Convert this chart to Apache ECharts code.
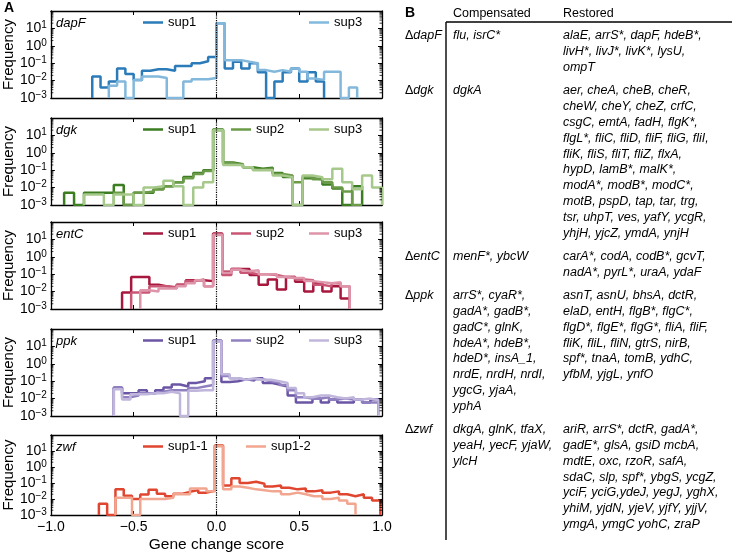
<!DOCTYPE html>
<html>
<head>
<meta charset="utf-8">
<script src="https://cdn.jsdelivr.net/npm/echarts@6/dist/echarts.min.js"></script>
<style>
  html, body { margin: 0; padding: 0; background: #fff; }
  #chart { width: 732px; height: 554px; }
</style>
</head>
<body>
<div id="chart"></div>
<script>
var FONT = 'Liberation Sans, Arial, sans-serif';
var FLOOR = 0.001; // empty bins sit on the bottom of the log axis

// ---- panel A : histograms of gene change score ----
var strains = ['dapF', 'dgk', 'entC', 'ppk', 'zwf'];
var xTicks = [-1.0, -0.5, 0.0, 0.5, 1.0];

// per strain: series names, first bin edge, bin width, frequency per bin
var dapF_names = ['sup1', 'sup3'];
var dapF_start = [-0.75, -0.65];
var dapF_width = [0.05, 0.05];
var dapF_freq = [
  [0.017, 0.004, 0.009, 0.05, 0.024, 0.011, 0.037, 0.045, 0.045, 0.037, 0.07, 0.07, 0.1, 0.13, 0.23,
   20,
   0.05, 0.12, 0.05, 0.1, 0.03, 0, 0.009, 0.03, 0.05, 0.009, 0.03, 0.009],
  [0.005, 0.009, 0, 0.011, 0.017, 0.017, 0.014, 0, 0, 0.009, 0.012, 0.012, 0.014,
   20,
   0.15, 0.15, 0.12, 0.1, 0.04, 0.032, 0.04, 0.032, 0.05, 0.032, 0.013, 0.011, 0.032, 0.032, 0, 0.004]
];

var dgk_names = ['sup1', 'sup2', 'sup3'];
var dgk_start = [-0.92, -0.62, -0.80];
var dgk_width = [0.06, 0.06, 0.06];
var dgk_freq = [
  [0.005, 0, 0.005, 0.005, 0.005, 0.014, 0, 0.005, 0.005, 0.008, 0.012, 0.02, 0.04, 0.07, 0.1,
   22,
   0.28, 0.22, 0.15, 0.12, 0.14, 0.07, 0.04, 0, 0.035, 0.03, 0.015, 0.009, 0, 0.012],
  [0.005, 0, 0.005, 0.006, 0.008, 0.012, 0.02, 0.035, 0.06, 0.09,
   20,
   0.25, 0.2, 0.15, 0.11, 0.12, 0.06, 0.05, 0.02, 0.04, 0.03, 0.02, 0.01, 0.006, 0],
  [0.004, 0.004, 0, 0.004, 0.004, 0, 0.01, 0.012, 0.025, 0.012, 0, 0.01, 0.02,
   20,
   0.2, 0.2, 0.15, 0.1, 0.1, 0.05, 0.04, 0, 0.05, 0.04, 0.03, 0.12, 0.02, 0.008, 0.05, 0.01]
];

var entC_names = ['sup1', 'sup2', 'sup3'];
var entC_start = [-0.57, -0.515, -0.46];
var entC_width = [0.055, 0.055, 0.055];
var entC_freq = [
  [0.009, 0.07, 0.07, 0.025, 0.02, 0.016, 0.025, 0.045, 0.045, 0.04,
   22,
   0.14, 0.2, 0.2, 0.09, 0.025, 0.05, 0.013, 0.07, 0.037, 0.01, 0.03, 0.01, 0.02, 0.004],
  [0.009, 0.009, 0.02, 0.02, 0.018, 0.025, 0.04, 0.05, 0.02,
   20,
   0.09, 0.2, 0.12, 0.1, 0.1, 0.09, 0.07, 0.07, 0.05, 0.045, 0.025, 0.02, 0.03, 0.02],
  [0.012, 0.01, 0.015, 0.015, 0.02, 0.03, 0.045, 0.02,
   18,
   0.12, 0.18, 0.15, 0.17, 0.1, 0.1, 0.07, 0.06, 0.06, 0.04, 0.035, 0.03, 0.035, 0.02]
];

var ppk_names = ['sup1', 'sup2', 'sup3'];
var ppk_start = [-0.62, -0.62, -0.62];
var ppk_width = [0.05, 0.05, 0.05];
var ppk_freq = [
  [0.043, 0.02, 0.02, 0.03, 0.02, 0.03, 0.043, 0.065, 0.05, 0.08, 0.1, 0.15,
   22,
   0.09, 0.1, 0.13, 0.11, 0.15, 0.08, 0.065, 0.05, 0.015, 0.006, 0.006, 0.01, 0.006, 0.009, 0.006, 0.006, 0.009, 0.006, 0.009],
  [0.04, 0.012, 0.015, 0.02, 0.02, 0.025, 0.03, 0.03, 0.03, 0.04, 0.05, 0.06,
   20,
   0.2, 0.15, 0.12, 0.13, 0.13, 0.1, 0.08, 0.06, 0.03, 0.012, 0.01, 0.01, 0.012, 0.009, 0.01, 0.009, 0.009, 0.006, 0.006],
  [0.035, 0.009, 0.018, 0.018, 0.02, 0.02, 0.025, 0.02, 0, 0.028, 0.03, 0.03,
   20,
   0.25, 0.15, 0.12, 0.15, 0.12, 0.12, 0.1, 0.08, 0.04, 0.02, 0.012, 0.015, 0.015, 0.012, 0.01, 0.012, 0.009, 0.01, 0.008]
];

var zwf_names = ['sup1-1', 'sup1-2'];
var zwf_start = [-0.71, -0.61];
var zwf_width = [0.05, 0.05];
var zwf_freq = [
  [0.005, 0, 0.04, 0.016, 0.01, 0.019, 0.038, 0.021, 0.015, 0.021, 0.028, 0.036, 0.025, 0.033,
   22,
   0.07, 0.2, 0.1, 0.12, 0.09, 0.06, 0.07, 0.05, 0.04, 0.045, 0.03, 0.035, 0.025, 0.03, 0.02, 0.015, 0.02, 0.012, 0.008],
  [0.012, 0.012, 0, 0.01, 0.01, 0.01, 0.012, 0.02, 0.02, 0.045, 0.045, 0.03,
   20,
   0.04, 0.06, 0.05, 0.04, 0.035, 0.03, 0.03, 0.02, 0.025, 0.02, 0.015, 0.015, 0.01, 0.012, 0.008, 0.005]
];

// ---- panel B : table ----
var tableStrains = ['dapF', 'dgk', 'entC', 'ppk', 'zwf'];
var compensated = [
  ['flu, isrC*'],
  ['dgkA'],
  ['menF*, ybcW'],
  ['arrS*, cyaR*,', 'gadA*, gadB*,', 'gadC*, glnK,', 'hdeA*, hdeB*,', 'hdeD*, insA_1,',
   'nrdE, nrdH, nrdI,', 'ygcG, yjaA,', 'yphA'],
  ['dkgA, glnK, tfaX,', 'yeaH, yecF, yjaW,', 'ylcH']
];
var restored = [
  ['alaE, arrS*, dapF, hdeB*,', 'livH*, livJ*, livK*, lysU,', 'ompT'],
  ['aer, cheA, cheB, cheR,', 'cheW, cheY, cheZ, crfC,', 'csgC, emtA, fadH, flgK*,',
   'flgL*, fliC, fliD, fliF, fliG, fliI,', 'fliK, fliS, fliT, fliZ, flxA,', 'hypD, lamB*, malK*,',
   'modA*, modB*, modC*,', 'motB, pspD, tap, tar, trg,', 'tsr, uhpT, ves, yafY, ycgR,',
   'yhjH, yjcZ, ymdA, ynjH'],
  ['carA*, codA, codB*, gcvT,', 'nadA*, pyrL*, uraA, ydaF'],
  ['asnT, asnU, bhsA, dctR,', 'elaD, entH, flgB*, flgC*,', 'flgD*, flgE*, flgG*, fliA, fliF,',
   'fliK, fliL, fliN, gtrS, nirB,', 'spf*, tnaA, tomB, ydhC,', 'yfbM, yjgL, ynfO'],
  ['ariR, arrS*, dctR, gadA*,', 'gadE*, glsA, gsiD mcbA,', 'mdtE, oxc, rzoR, safA,',
   'sdaC, slp, spf*, ybgS, ycgZ,', 'yciF, yciG,ydeJ, yegJ, yghX,', 'yhiM, yjdN, yjeV, yjfY, yjjV,',
   'ymgA, ymgC yohC, zraP']
];

// ---- styling / layout ----
var panels = [
  { names: dapF_names, start: dapF_start, width: dapF_width, freq: dapF_freq,
    colors: ['#2b7bb9', '#82b8dc'], legX: [143, 309] },
  { names: dgk_names, start: dgk_start, width: dgk_width, freq: dgk_freq,
    colors: ['#3b7d20', '#6b9b48', '#a6c98b'], legX: [143, 231, 309] },
  { names: entC_names, start: entC_start, width: entC_width, freq: entC_freq,
    colors: ['#a8173d', '#c95674', '#de95aa'], legX: [143, 231, 309] },
  { names: ppk_names, start: ppk_start, width: ppk_width, freq: ppk_freq,
    colors: ['#6b55a5', '#9080c0', '#c0b6dc'], legX: [143, 231, 309] },
  { names: zwf_names, start: zwf_start, width: zwf_width, freq: zwf_freq,
    colors: ['#e0452f', '#f2a690'], legX: [143, 246] }
];
var tops = [11, 118, 222, 329, 435];
var GH = 87;

// log minor ticks 2..9 x 10^n
var minorTicks = [];
for (var n = -3; n <= 1; n++) {
  for (var m = 2; m <= 9; m++) minorTicks.push(m * Math.pow(10, n));
}

function stepLine(start, width, freq) {
  var pts = [[start, FLOOR]];
  for (var k = 0; k < freq.length; k++) {
    var x0 = +(start + k * width).toFixed(4);
    var x1 = +(start + (k + 1) * width).toFixed(4);
    var y = freq[k] > 0 ? freq[k] : FLOOR;
    pts.push([x0, y], [x1, y]);
  }
  pts.push([+(start + freq.length * width).toFixed(4), FLOOR]);
  return pts;
}

function minus(v) { return v < 0 ? '\u2212' + Math.abs(v) : '' + v; }

var axisLineStyle = { color: '#000', width: 1.3 };
var grids = [], xAxes = [], yAxes = [], series = [], legends = [], graphics = [];

panels.forEach(function (p, i) {
  var T = tops[i];
  grids.push({ left: 46, top: T, width: 336, height: GH });

  xAxes.push({
    gridIndex: i, type: 'value', min: -1, max: 1, interval: 0.5, position: 'bottom',
    axisLine: { onZero: false, lineStyle: axisLineStyle },
    axisTick: { inside: true, length: 4, lineStyle: { color: '#000', width: 1 } },
    axisLabel: {
      show: i === 4, margin: 5, color: '#000', fontSize: 14, fontFamily: FONT,
      showMinLabel: true, showMaxLabel: true,
      formatter: function (v) { return (v < 0 ? '\u2212' : '') + Math.abs(v).toFixed(1); }
    },
    splitLine: { show: false },
    name: i === 4 ? 'Gene change score' : '', nameLocation: 'middle', nameGap: 22,
    nameTextStyle: { color: '#000', fontSize: 15.5, fontFamily: FONT }
  });
  xAxes.push({
    gridIndex: i, type: 'value', min: -1, max: 1, interval: 0.5, position: 'top',
    axisLine: { onZero: false, lineStyle: axisLineStyle },
    axisTick: { inside: true, length: 4, lineStyle: { color: '#000', width: 1 } },
    axisLabel: { show: false }, splitLine: { show: false }
  });

  yAxes.push({
    gridIndex: i, type: 'log', logBase: 10, min: 0.001, max: 100, position: 'left',
    axisLine: { onZero: false, lineStyle: axisLineStyle },
    axisTick: { inside: true, length: 4, lineStyle: { color: '#000', width: 1 } },
    axisLabel: {
      margin: 4, showMinLabel: true, showMaxLabel: false, hideOverlap: false, color: '#000',
      formatter: function (v) {
        var e = Math.round(Math.log(v) / Math.LN10);
        return '{b|10}{s|' + minus(e) + '}';
      },
      rich: {
        b: { fontSize: 14, fontFamily: FONT, color: '#000', lineHeight: 16 },
        s: { fontSize: 10, fontFamily: FONT, color: '#000', lineHeight: 8, verticalAlign: 'top' }
      }
    },
    splitLine: { show: false },
    name: 'Frequency', nameLocation: 'middle', nameGap: 30,
    nameTextStyle: { color: '#000', fontSize: 15, fontFamily: FONT }
  });
  yAxes.push({
    gridIndex: i, type: 'log', logBase: 10, min: 0.001, max: 100, position: 'right',
    axisLine: { onZero: false, lineStyle: axisLineStyle },
    axisTick: { inside: true, length: 4, lineStyle: { color: '#000', width: 1 } },
    axisLabel: { show: false }, splitLine: { show: false }
  });

  p.names.forEach(function (nm, j) {
    var sName = strains[i] + '|' + nm;
    var s = {
      type: 'line', name: sName, xAxisIndex: 2 * i, yAxisIndex: 2 * i,
      data: stepLine(p.start[j], p.width[j], p.freq[j]),
      symbol: 'none', showSymbol: false, clip: true, animation: false,
      color: p.colors[j],
      lineStyle: { width: 2.5, color: p.colors[j] },
      z: 3 + j
    };
    if (j === 0) {
      s.markLine = {
        silent: true, symbol: ['none', 'none'], label: { show: false },
        lineStyle: { type: 'dotted', color: '#000', width: 1.2 },
        data: [{ xAxis: 0 }], z: 10
      };
    }
    series.push(s);
    legends.push({
      data: [sName], left: p.legX[j], top: T + 5, icon: 'rect', itemWidth: 20, itemHeight: 2.5,
      selectedMode: false, padding: 0,
      textStyle: { fontSize: 13, fontFamily: FONT, color: '#000' },
      formatter: function (name) { return name.split('|')[1]; }
    });
  });

  // log minor ticks, both sides
  series.push({
    type: 'custom', xAxisIndex: 2 * i, yAxisIndex: 2 * i, silent: true, animation: false, z: 20,
    data: minorTicks.map(function (v) { return [0, v]; }),
    renderItem: function (params, api) {
      var v = api.value(1);
      var a = api.coord([-1, v]);
      var b = api.coord([1, v]);
      var st = { stroke: '#000', lineWidth: 0.8 };
      return {
        type: 'group', children: [
          { type: 'line', shape: { x1: a[0], y1: a[1], x2: a[0] + 2.5, y2: a[1] }, style: st },
          { type: 'line', shape: { x1: b[0] - 2.5, y1: b[1], x2: b[0], y2: b[1] }, style: st }
        ]
      };
    }
  });

  graphics.push({
    type: 'text', x: 56, y: T + 12,
    style: { text: strains[i], fontSize: 13, fontStyle: 'italic', fontFamily: FONT, fill: '#000', verticalAlign: 'middle' }
  });
});

// panel letters
graphics.push({ type: 'text', x: 4, y: 8, style: { text: 'A', fontSize: 14, fontWeight: 'bold', fontFamily: FONT, fill: '#000', verticalAlign: 'middle' } });
graphics.push({ type: 'text', x: 405, y: 13, style: { text: 'B', fontSize: 14, fontWeight: 'bold', fontFamily: FONT, fill: '#000', verticalAlign: 'middle' } });

// table
var TFS = 12.5, LH = 15.8, GAP = 7.6;
var colStrain = 405, colComp = 453, colRest = 563, vLineX = 446;
graphics.push({ type: 'text', x: colComp, y: 14, style: { text: 'Compensated', fontSize: TFS, fontFamily: FONT, fill: '#000', verticalAlign: 'middle' } });
graphics.push({ type: 'text', x: colRest, y: 14, style: { text: 'Restored', fontSize: TFS, fontFamily: FONT, fill: '#000', verticalAlign: 'middle' } });
graphics.push({ type: 'line', shape: { x1: vLineX, y1: 22, x2: 732, y2: 22 }, style: { stroke: '#000', lineWidth: 1.4 } });
graphics.push({ type: 'line', shape: { x1: vLineX, y1: 22, x2: vLineX, y2: 540 }, style: { stroke: '#000', lineWidth: 1.4 } });

var rowY = 36;
tableStrains.forEach(function (st, r) {
  graphics.push({
    type: 'text', x: colStrain, y: rowY,
    style: {
      text: '\u0394{i|' + st + '}', fontSize: TFS, fontFamily: FONT, fill: '#000', verticalAlign: 'middle',
      rich: { i: { fontStyle: 'italic', fontSize: TFS, fontFamily: FONT, fill: '#000' } }
    }
  });
  graphics.push({
    type: 'text', x: colComp, y: rowY - LH / 2,
    style: { text: compensated[r].join('\n'), fontSize: TFS, lineHeight: LH, fontStyle: 'italic', fontFamily: FONT, fill: '#000', verticalAlign: 'top' }
  });
  graphics.push({
    type: 'text', x: colRest, y: rowY - LH / 2,
    style: { text: restored[r].join('\n'), fontSize: TFS, lineHeight: LH, fontStyle: 'italic', fontFamily: FONT, fill: '#000', verticalAlign: 'top' }
  });
  rowY += Math.max(compensated[r].length, restored[r].length) * LH + GAP;
});

var chart = echarts.init(document.getElementById('chart'));
chart.setOption({
  animation: false,
  backgroundColor: '#fff',
  grid: grids,
  xAxis: xAxes,
  yAxis: yAxes,
  legend: legends,
  series: series,
  graphic: graphics
});
</script>
</body>
</html>
